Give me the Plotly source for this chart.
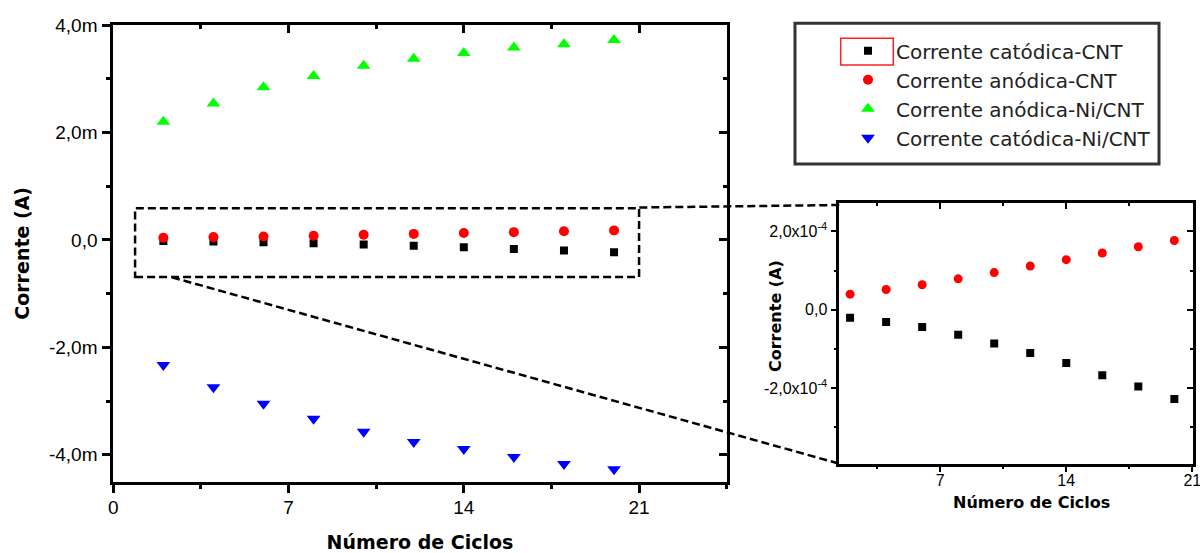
import plotly.graph_objects as go

# Figure size (px)
W, H = 1200, 553

# Cycle numbers
ciclos = [2, 4, 6, 8, 10, 12, 14, 16, 18, 20]

# Currents (A)
catodica_cnt = [-0.20e-4, -0.31e-4, -0.44e-4, -0.64e-4, -0.86e-4,
                -1.10e-4, -1.36e-4, -1.67e-4, -1.96e-4, -2.28e-4]
anodica_cnt = [0.40e-4, 0.52e-4, 0.64e-4, 0.79e-4, 0.95e-4,
               1.12e-4, 1.28e-4, 1.45e-4, 1.61e-4, 1.77e-4]
anodica_ni_cnt = [2.20e-3, 2.54e-3, 2.84e-3, 3.05e-3, 3.24e-3,
                  3.37e-3, 3.48e-3, 3.58e-3, 3.64e-3, 3.72e-3]
catodica_ni_cnt = [-2.33e-3, -2.74e-3, -3.05e-3, -3.33e-3, -3.57e-3,
                   -3.76e-3, -3.89e-3, -4.04e-3, -4.17e-3, -4.27e-3]

# Tick labels
main_x_ticks = [0, 7, 14, 21]
main_y_vals = [-4e-3, -2e-3, 0, 2e-3, 4e-3]
main_y_text = ["-4,0m", "-2,0m", "0,0", "2,0m", "4,0m"]
inset_x_ticks = [7, 14, 21]
inset_y_vals = [-2e-4, 0, 2e-4]
inset_y_text = ["-2,0x10<sup>-4</sup>", "0,0", "2,0x10<sup>-4</sup>"]


def px(x):
    return x / W


def py(y):
    return 1 - y / H


TICK_FONT = "Liberation Sans, Arial, sans-serif"
TITLE_FONT = "DejaVu Sans, Verdana, sans-serif"

# Axis areas in pixels
MAIN = dict(l=113.3, r=726.7, t=25, b=481.7)
INS = dict(l=839.3, r=1192.7, t=203.3, b=463.7)

fig = go.Figure()

fig.add_trace(go.Scatter(x=ciclos, y=catodica_cnt, mode="markers",
                         name="Corrente catódica-CNT",
                         marker=dict(symbol="square", size=8, color="#000000", line_width=0),
                         xaxis="x", yaxis="y"))
fig.add_trace(go.Scatter(x=ciclos, y=anodica_cnt, mode="markers",
                         name="Corrente anódica-CNT",
                         marker=dict(symbol="circle", size=10, color="#ff0000", line_width=0),
                         xaxis="x", yaxis="y"))
fig.add_trace(go.Scatter(x=ciclos, y=anodica_ni_cnt, mode="markers",
                         name="Corrente anódica-Ni/CNT",
                         marker=dict(symbol="triangle-up", size=12, color="#00ff00", line_width=0),
                         xaxis="x", yaxis="y"))
fig.add_trace(go.Scatter(x=ciclos, y=catodica_ni_cnt, mode="markers",
                         name="Corrente catódica-Ni/CNT",
                         marker=dict(symbol="triangle-down", size=12, color="#0000ff", line_width=0),
                         xaxis="x", yaxis="y"))

# Zoomed view of the CNT currents
fig.add_trace(go.Scatter(x=ciclos, y=catodica_cnt, mode="markers", showlegend=False,
                         marker=dict(symbol="square", size=8, color="#000000", line_width=0),
                         xaxis="x3", yaxis="y3"))
fig.add_trace(go.Scatter(x=ciclos, y=anodica_cnt, mode="markers", showlegend=False,
                         marker=dict(symbol="circle", size=9, color="#ff0000", line_width=0),
                         xaxis="x3", yaxis="y3"))

# Empty traces so the mirrored frame axes (top / right) are drawn
for xa, ya in (("x2", "y2"), ("x4", "y4")):
    fig.add_trace(go.Scatter(x=[], y=[], mode="markers", showlegend=False,
                             hoverinfo="skip", xaxis=xa, yaxis=ya))

main_xd = [px(MAIN["l"]), px(MAIN["r"])]
main_yd = [py(MAIN["b"]), py(MAIN["t"])]
ins_xd = [px(INS["l"]), px(INS["r"])]
ins_yd = [py(INS["b"]), py(INS["t"])]

common = dict(showgrid=False, zeroline=False, showline=True, linecolor="black",
              automargin=False)

main_xr = [0, 24.5]
main_yr = [-4.5e-3, 4.0e-3]
ins_xr = [1.4, 21.02]
ins_yr = [-3.93e-4, 2.72e-4]


def minor(step, side, length, width):
    return dict(tickmode="linear", tick0=0, dtick=step, ticks=side, ticklen=length,
                tickwidth=width, tickcolor="black")


fig.update_layout(
    width=W, height=H,
    margin=dict(l=0, r=0, t=0, b=0, autoexpand=False),
    paper_bgcolor="white", plot_bgcolor="white",
    showlegend=True,
    xaxis=dict(domain=main_xd, anchor="y", range=main_xr, **common, linewidth=3,
               tickmode="array", tickvals=main_x_ticks, ticks="outside", ticklen=8, tickwidth=2.5,
               tickcolor="black", minor=minor(3.5, "outside", 4, 2.5),
               ticklabelstandoff=-2,
               tickfont=dict(family=TICK_FONT, size=19, color="black"),
               title=dict(text="<b>Número de Ciclos</b>", standoff=22,
                          font=dict(family=TITLE_FONT, size=19, color="black"))),
    xaxis2=dict(domain=main_xd, anchor="y2", overlaying="x", side="top", range=main_xr, **common,
                linewidth=3, tickmode="array", tickvals=main_x_ticks, ticks="inside", ticklen=8,
                tickwidth=2.5, tickcolor="black", showticklabels=False,
                minor=minor(3.5, "inside", 4, 2.5)),
    yaxis=dict(domain=main_yd, anchor="x", range=main_yr, **common, linewidth=3,
               tickmode="array", tickvals=main_y_vals, ticktext=main_y_text,
               ticks="outside", ticklen=8, tickwidth=2.5, tickcolor="black",
               ticklabelstandoff=1, minor=minor(1e-3, "outside", 4, 2.5),
               tickfont=dict(family=TICK_FONT, size=19, color="black"),
               title=dict(text="<b>Corrente (A)</b>", standoff=15,
                          font=dict(family=TITLE_FONT, size=19, color="black"))),
    yaxis2=dict(domain=main_yd, anchor="x2", overlaying="y", side="right", range=main_yr, **common,
                linewidth=3, tickmode="array", tickvals=main_y_vals, ticks="inside", ticklen=8,
                tickwidth=2.5, tickcolor="black", showticklabels=False,
                minor=minor(1e-3, "inside", 4, 2.5)),
    xaxis3=dict(domain=ins_xd, anchor="y3", range=ins_xr, **common, linewidth=2.5,
                tickmode="array", tickvals=inset_x_ticks, ticks="outside", ticklen=6, tickwidth=2,
                tickcolor="black", minor=minor(3.5, "outside", 3, 2),
                ticklabelstandoff=-6, ticklabeloverflow="allow",
                tickfont=dict(family=TICK_FONT, size=16, color="black")),
    xaxis4=dict(domain=ins_xd, anchor="y4", overlaying="x3", side="top", range=ins_xr, **common,
                linewidth=2.5, tickmode="array", tickvals=inset_x_ticks, ticks="inside", ticklen=6,
                tickwidth=2, tickcolor="black", showticklabels=False,
                minor=minor(3.5, "inside", 3, 2)),
    yaxis3=dict(domain=ins_yd, anchor="x3", range=ins_yr, **common, linewidth=2.5,
                tickmode="array", tickvals=inset_y_vals, ticktext=inset_y_text,
                ticks="outside", ticklen=6, tickwidth=2, tickcolor="black",
                minor=minor(1e-4, "outside", 3, 2),
                tickfont=dict(family=TICK_FONT, size=16, color="black")),
    yaxis4=dict(domain=ins_yd, anchor="x4", overlaying="y3", side="right", range=ins_yr, **common,
                linewidth=2.5, tickmode="array", tickvals=inset_y_vals, ticks="inside", ticklen=6,
                tickwidth=2, tickcolor="black", showticklabels=False,
                minor=minor(1e-4, "inside", 3, 2)),
    legend=dict(x=px(840), y=py(31.3), xanchor="left", yanchor="top",
                bgcolor="rgba(0,0,0,0)", borderwidth=0, itemwidth=46,
                font=dict(family=TITLE_FONT, size=20, color="#222222"),
                tracegroupgap=0),
)

# Inset axis titles
fig.add_annotation(text="<b>Número de Ciclos</b>", xref="paper", yref="paper",
                   x=px(1031), y=py(502.7), showarrow=False, xanchor="center", yanchor="middle",
                   font=dict(family=TITLE_FONT, size=16, color="black"))
fig.add_annotation(text="<b>Corrente (A)</b>", xref="paper", yref="paper", textangle=-90,
                   x=px(775), y=py(316), showarrow=False, xanchor="center", yanchor="middle",
                   font=dict(family=TITLE_FONT, size=16, color="black"))

dash = "8px,4px"
shapes = [
    # zoom region on the main axes
    dict(type="rect", xref="x", yref="y", x0=0.87, x1=21, y0=-0.69e-3, y1=0.59e-3,
         line=dict(color="black", width=2.5, dash=dash)),
    # connectors to the inset
    dict(type="line", xref="paper", yref="paper", x0=px(639.3), y0=py(207.5),
         x1=px(INS["l"]), y1=py(205), line=dict(color="black", width=2.5, dash=dash)),
    dict(type="line", xref="paper", yref="paper", x0=px(172), y0=py(277.3),
         x1=px(INS["l"]), y1=py(INS["b"]), line=dict(color="black", width=2.5, dash=dash)),
    # legend frame and highlight
    dict(type="rect", xref="paper", yref="paper", x0=px(795), x1=px(1159), y0=py(164), y1=py(23.3),
         line=dict(color="#333333", width=3)),
    dict(type="rect", xref="paper", yref="paper", x0=px(840.7), x1=px(893.3), y0=py(65), y1=py(38.3),
         line=dict(color="#ff2020", width=1.5)),
]
fig.update_layout(shapes=shapes)

fig.write_html("out.html")
